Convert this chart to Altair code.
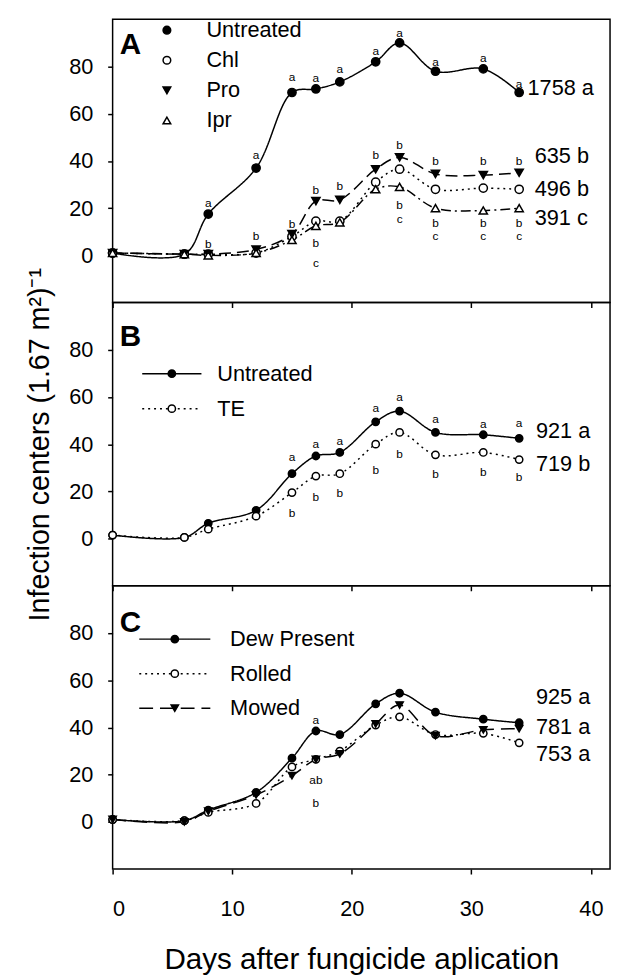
import altair as alt
import pandas as pd

FONT = "Liberation Sans"

days = [0, 6, 8, 12, 15, 17, 19, 22, 24, 27, 31, 34]

# ---------------- Panel A ----------------
a_series = ["Untreated", "Chl", "Pro", "Ipr"]
a_untreated = [1, 0.5, 17.5, 37, 69, 70.5, 73.5, 82, 90, 78, 79, 69]
a_chl = [1, 0.5, 0.5, 1, 8, 14.5, 14.5, 31, 36.5, 28, 28.5, 28]
a_pro = [1, 0.5, 0.5, 2.5, 9, 23, 23.5, 36.5, 41.5, 34.5, 34, 35]
a_ipr = [1, 0.5, 0, 1, 6.5, 12.5, 14, 28, 29, 20, 19, 20]

a_let_txt = ["a", "a", "a", "a", "a", "a", "a", "a", "a", "a",
             "b", "b", "b", "b", "b", "c", "b", "b", "b", "b", "c",
             "b", "b", "c", "b", "b", "c", "b", "b", "c"]
a_let_day = [8, 12, 15, 17, 19, 22, 24, 27, 31, 34,
             8, 12, 15, 17, 17, 17, 19, 22, 24, 24, 24,
             27, 27, 27, 31, 31, 31, 34, 34, 34]
a_let_val = [22, 42.7, 75.5, 75, 79, 86.7, 94, 82, 83.8, 72.6,
             4.6, 8.3, 13.3, 27.8, 5.4, -3.2, 29.5, 42.7, 46.9, 21.5, 15.5,
             39.8, 13.8, 8.0, 39.8, 13.8, 8.0, 39.8, 13.8, 8.0]

a_tot_txt = ["1758 a", "635 b", "496 b", "391 c"]
a_tot_day = [34.7, 35.3, 35.3, 35.3]
a_tot_val = [71, 42, 28.2, 15.8]

# ---------------- Panel B ----------------
b_series = ["Untreated", "TE"]
b_untreated = [1.5, 0.5, 6.5, 12, 27.5, 35, 36.5, 49.5, 54, 45, 44, 42.5]
b_te = [1.5, 0.5, 4, 9.5, 19.5, 26.5, 27.5, 40, 45, 35.5, 36.5, 33.5]

b_let_txt = ["a"] * 8 + ["b"] * 8
b_let_day = [15, 17, 19, 22, 24, 27, 31, 34, 15, 17, 19, 22, 24, 27, 31, 34]
b_let_val = [34.4, 40, 41.3, 55.5, 60, 50.6, 48.6, 49,
             10.9, 17.4, 19.4, 29.1, 36, 27.5, 28.3, 25.9]

b_tot_txt = ["921 a", "719 b"]
b_tot_day = [35.4, 35.4]
b_tot_val = [45.7, 31.6]

# ---------------- Panel C ----------------
c_series = ["Dew Present", "Rolled", "Mowed"]
c_dew = [1, 0.5, 5, 12.5, 27, 38.5, 37, 50, 54.5, 46.5, 43.5, 42]
c_rolled = [1, 0.5, 4, 7.8, 23.3, 26.5, 30, 41, 44.5, 37, 37.5, 33.5]
c_mowed = [1, 0, 4.5, 11.4, 19.6, 26.5, 28.8, 41.5, 49.5, 36.5, 39, 39.5]

c_let_txt = ["a", "ab", "b"]
c_let_day = [17, 17, 17]
c_let_val = [43.3, 17.6, 7.8]

c_tot_txt = ["925 a", "781 a", "753 a"]
c_tot_day = [35.4, 35.4, 35.4]
c_tot_val = [53, 40, 28.6]

panel_txt = ["A", "B", "C"]
panel_day = [1.5, 1.5, 1.5]
panel_val = [89, 85.5, 84]

x_ticks = [0, 10, 20, 30, 40]
y_ticks = [0, 20, 40, 60, 80]


def long_df(names, vals_list):
    rows = []
    for n, vals in zip(names, vals_list):
        for d, v in zip(days, vals):
            rows.append({"day": d, "value": v, "series": n, "series2": n})
    return pd.DataFrame(rows)


def txt_df(txt, d, v):
    return pd.DataFrame({"txt": txt, "day": d, "value": v})


W, H = 504, 287


def enc_xy(show_x_labels, y_title=None):
    if show_x_labels:
        xa = alt.Axis(values=x_ticks, labels=True, labelPadding=25,
                      title="Days after fungicide aplication", titlePadding=26,
                      titleFontSize=30)
    else:
        xa = alt.Axis(values=x_ticks, labels=False, title=None)
    if y_title:
        ya = alt.Axis(values=y_ticks, labelPadding=15, title=y_title,
                      titlePadding=14, titleFontSize=29)
    else:
        ya = alt.Axis(values=y_ticks, labelPadding=15, title=None)
    x = alt.X("day:Q", scale=alt.Scale(domain=[0, 41.6], nice=False, zero=False), axis=xa)
    y = alt.Y("value:Q", scale=alt.Scale(domain=[-20, 100], nice=False, zero=False), axis=ya)
    return x, y


dash_map = {
    "Untreated": [1, 0], "Chl": [2, 4], "Pro": [12, 6], "Ipr": [10, 4, 2, 4],
    "TE": [2, 4], "Dew Present": [1, 0], "Rolled": [2, 4], "Mowed": [14, 7],
}
shape_map = {
    "Untreated": "circle", "Chl": "circle", "Pro": "triangle-down", "Ipr": "triangle-up",
    "TE": "circle", "Dew Present": "circle", "Rolled": "circle", "Mowed": "triangle-down",
}
fill_map = {
    "Untreated": "black", "Chl": "white", "Pro": "black", "Ipr": "white",
    "TE": "white", "Dew Present": "black", "Rolled": "white", "Mowed": "black",
}


def panel(names, vals, let, tot, pidx, show_x, y_title, leg):
    df = long_df(names, vals)
    x, y = enc_xy(show_x, y_title)
    p = leg["shape"]
    dash_leg = None
    if leg.get("line"):
        half = leg["line"]
        dash_leg = alt.Legend(orient="none", legendX=p["x"], legendY=p["y"], title=None,
                              symbolType=f"M-{half},0H{half}", symbolSize=100,
                              symbolStrokeColor="black", symbolStrokeWidth=1.5,
                              labelFont=FONT, labelFontSize=22, labelColor="black",
                              rowPadding=p["rp"], labelOffset=p["lo"], padding=0)
    # the dash scale takes its domain from the data, so its legend stays
    # separate from the shape/fill legend
    line = alt.Chart(df).mark_line(color="black", strokeWidth=1.5,
                                   interpolate="catmull-rom").encode(
        x=x, y=y,
        strokeDash=alt.StrokeDash("series2:N", sort=names,
                                  scale=alt.Scale(range=[dash_map[n] for n in names]),
                                  legend=dash_leg),
    )
    shape_kw = dict(orient="none", legendX=p["x"], legendY=p["y"], title=None,
                    symbolSize=p["size"], symbolStrokeColor="black",
                    symbolStrokeWidth=1.5, labelFont=FONT, labelFontSize=22,
                    labelColor="black", rowPadding=p["rp"], labelOffset=p["lo"],
                    padding=0)
    if leg.get("line"):
        shape_kw["labelExpr"] = "' '"
    shape_leg = alt.Legend(**shape_kw)
    pts = alt.Chart(df).mark_point(strokeWidth=1.5, opacity=1,
                                   size=p["msize"]).encode(
        x=x, y=y,
        shape=alt.Shape("series:N",
                        scale=alt.Scale(domain=names, range=[shape_map[n] for n in names]),
                        legend=shape_leg),
        fill=alt.Fill("series:N",
                      scale=alt.Scale(domain=names, range=[fill_map[n] for n in names]),
                      legend=shape_leg),
        stroke=alt.Stroke("series:N",
                          scale=alt.Scale(domain=names, range=["black"] * len(names)),
                          legend=shape_leg),
    )
    letters = alt.Chart(txt_df(*let)).mark_text(font=FONT, fontSize=12, color="black",
                                                baseline="middle", align="center").encode(
        x=x, y=y, text="txt:N")
    totals = alt.Chart(txt_df(*tot)).mark_text(font=FONT, fontSize=22, color="black",
                                               baseline="middle", align="left").encode(
        x=x, y=y, text="txt:N")
    ptxt = alt.Chart(txt_df([panel_txt[pidx]], [panel_day[pidx]], [panel_val[pidx]])).mark_text(
        font=FONT, fontSize=30, fontWeight="bold", color="black",
        baseline="middle", align="center").encode(x=x, y=y, text="txt:N")
    return alt.layer(line, pts, letters, totals, ptxt).properties(width=W, height=H)


pa = panel(a_series, [a_untreated, a_chl, a_pro, a_ipr],
           (a_let_txt, a_let_day, a_let_val), (a_tot_txt, a_tot_day, a_tot_val),
           0, False, None,
           {"shape": {"x": 44, "y": 0, "size": 60, "rp": 8.5, "lo": 29, "msize": 70}})
pb = panel(b_series, [b_untreated, b_te],
           (b_let_txt, b_let_day, b_let_val), (b_tot_txt, b_tot_day, b_tot_val),
           1, False, "Infection centers (1.67 m\u00b2)\u207b\u00b9",
           {"line": 6,
            "shape": {"x": 49, "y": 61, "size": 55, "rp": 13.5, "lo": 35, "msize": 55}})
pc = panel(c_series, [c_dew, c_rolled, c_mowed],
           (c_let_txt, c_let_day, c_let_val), (c_tot_txt, c_tot_day, c_tot_val),
           2, True, None,
           {"line": 7.2,
            "shape": {"x": 52, "y": 43, "size": 55, "rp": 13, "lo": 45, "msize": 55}})

chart = alt.vconcat(pa, pb, pc, spacing=0, bounds="flush").resolve_scale(
    shape="independent", fill="independent", stroke="independent",
    strokeDash="independent"
).properties(
    padding={"left": 17, "top": 4, "right": 2, "bottom": 5}
).configure(font=FONT).configure_view(
    stroke="black", strokeWidth=1.5
).configure_axis(
    labelFont=FONT, labelFontSize=22, labelColor="black",
    titleFont=FONT, titleFontWeight="normal", titleColor="black",
    tickColor="black", tickWidth=1.5, tickSize=5, domain=False, grid=False,
)

chart.save("out.html", embed_options={"renderer": "svg", "actions": False})
